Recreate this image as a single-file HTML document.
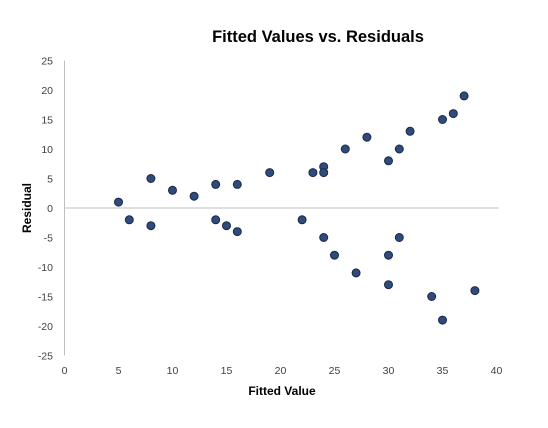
<!DOCTYPE html>
<html><head><meta charset="utf-8"><style>
body{margin:0;background:#fff}
text{font-family:"Liberation Sans",sans-serif}
</style></head><body>
<svg id="chart" width="548" height="423" xmlns="http://www.w3.org/2000/svg">
<rect width="548" height="423" fill="#fff"/>
<text x="318" y="42" text-anchor="middle" font-size="16.5" font-weight="bold" fill="#000">Fitted Values vs. Residuals</text>
<text x="282" y="395" text-anchor="middle" font-size="12" font-weight="bold" fill="#000">Fitted Value</text>
<text transform="translate(31,208) rotate(-90)" text-anchor="middle" font-size="12" font-weight="bold" fill="#000">Residual</text>
<g id="axes"></g><g id="pts"></g>
</svg>
<script>
const xTicks=[0,5,10,15,20,25,30,35,40];
const yTicks=[25,20,15,10,5,0,-5,-10,-15,-20,-25];
const fitted=[5,6,8,8,10,12,14,14,15,16,16,19,22,23,24,24,24,25,26,27,28,30,30,30,31,31,32,34,35,35,36,37,38];
const residuals=[1,-2,5,-3,3,2,4,-2,-3,4,-4,6,-2,6,7,6,-5,-8,10,-11,12,8,-8,-13,10,-5,13,-15,15,-19,16,19,-14];
const NS="http://www.w3.org/2000/svg";
const X=v=>64.5+v*10.8, Y=v=>208-v*5.9;
const ax=document.getElementById('axes'), pg=document.getElementById('pts');
function mk(t,a,p){const e=document.createElementNS(NS,t);for(const k in a)e.setAttribute(k,a[k]);p.appendChild(e);return e;}
let l=mk('line',{x1:64.5,x2:64.5,y1:Y(25),y2:Y(-25),stroke:'#bfbfbf'},ax);


l=mk('line',{x1:64.5,x2:499,y1:Y(0),y2:Y(0),stroke:'#bfbfbf'},ax);


yTicks.forEach(v=>{const t=mk('text',{x:53,y:Y(v)+4,'text-anchor':'end','font-size':'10.5',fill:'#404040'},ax);t.textContent=v;

});
xTicks.forEach(v=>{const t=mk('text',{x:X(v),y:374,'text-anchor':'middle','font-size':'10.5',fill:'#404040'},ax);t.textContent=v;

});
fitted.forEach((f,i)=>{const c=mk('circle',{cx:X(f),cy:Y(residuals[i]),r:4,fill:'#2f4b7c',stroke:'#1a2a44','stroke-width':1},pg);

});
</script>
</body></html>
